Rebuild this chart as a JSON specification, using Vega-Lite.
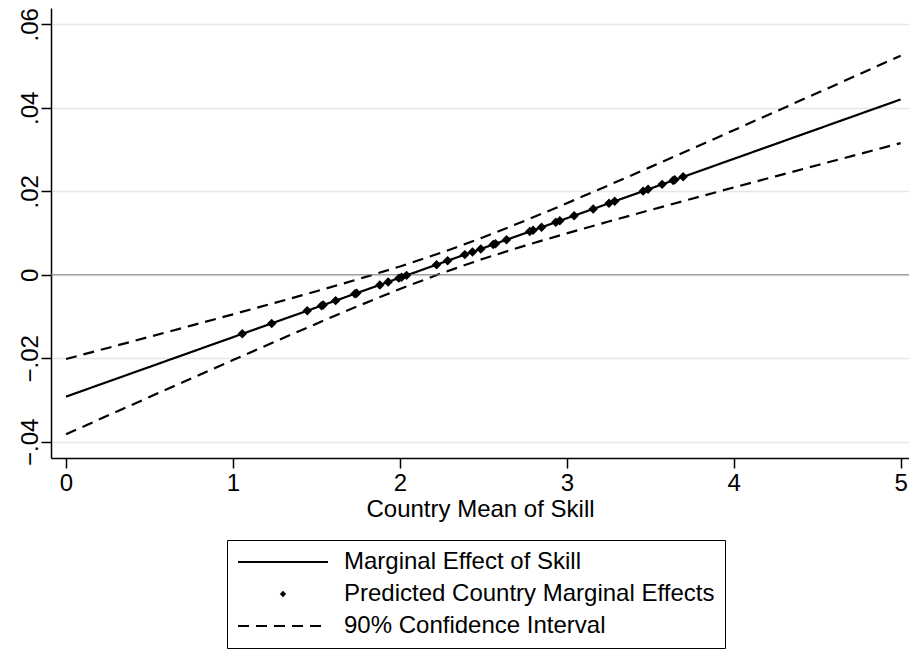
{
  "$schema": "https://vega.github.io/schema/vega-lite/v6.json",
  "width": 858,
  "height": 450,
  "autosize": "none",
  "padding": {"left": 51, "top": 8, "right": 0, "bottom": 191},
  "background": "white",
  "config": {
    "view": {"stroke": null},
    "font": "Liberation Sans",
    "axis": {
      "labelFont": "Liberation Sans",
      "titleFont": "Liberation Sans",
      "labelColor": "black",
      "titleColor": "black",
      "domainColor": "black",
      "tickColor": "black",
      "domainWidth": 1.5,
      "tickWidth": 1.5,
      "labelFlush": false,
      "labelOverlap": false
    },
    "legend": {"labelFont": "Liberation Sans"}
  },
  "datasets": {
    "curves": [
      {"x": 0, "y": -0.0292, "series": "Marginal Effect of Skill", "part": "me"},
      {"x": 0.25, "y": -0.02564, "series": "Marginal Effect of Skill", "part": "me"},
      {"x": 0.5, "y": -0.02208, "series": "Marginal Effect of Skill", "part": "me"},
      {"x": 0.75, "y": -0.01852, "series": "Marginal Effect of Skill", "part": "me"},
      {"x": 1, "y": -0.01496, "series": "Marginal Effect of Skill", "part": "me"},
      {"x": 1.25, "y": -0.0114, "series": "Marginal Effect of Skill", "part": "me"},
      {"x": 1.5, "y": -0.00784, "series": "Marginal Effect of Skill", "part": "me"},
      {"x": 1.75, "y": -0.00428, "series": "Marginal Effect of Skill", "part": "me"},
      {"x": 2, "y": -0.00072, "series": "Marginal Effect of Skill", "part": "me"},
      {"x": 2.25, "y": 0.00284, "series": "Marginal Effect of Skill", "part": "me"},
      {"x": 2.5, "y": 0.0064, "series": "Marginal Effect of Skill", "part": "me"},
      {"x": 2.75, "y": 0.00996, "series": "Marginal Effect of Skill", "part": "me"},
      {"x": 3, "y": 0.01352, "series": "Marginal Effect of Skill", "part": "me"},
      {"x": 3.25, "y": 0.01708, "series": "Marginal Effect of Skill", "part": "me"},
      {"x": 3.5, "y": 0.02064, "series": "Marginal Effect of Skill", "part": "me"},
      {"x": 3.75, "y": 0.0242, "series": "Marginal Effect of Skill", "part": "me"},
      {"x": 4, "y": 0.02776, "series": "Marginal Effect of Skill", "part": "me"},
      {"x": 4.25, "y": 0.03132, "series": "Marginal Effect of Skill", "part": "me"},
      {"x": 4.5, "y": 0.03488, "series": "Marginal Effect of Skill", "part": "me"},
      {"x": 4.75, "y": 0.03844, "series": "Marginal Effect of Skill", "part": "me"},
      {"x": 5, "y": 0.042, "series": "Marginal Effect of Skill", "part": "me"},

      {"x": 0, "y": -0.02019, "series": "90% Confidence Interval", "part": "upper"},
      {"x": 0.25, "y": -0.01754, "series": "90% Confidence Interval", "part": "upper"},
      {"x": 0.5, "y": -0.01487, "series": "90% Confidence Interval", "part": "upper"},
      {"x": 0.75, "y": -0.01219, "series": "90% Confidence Interval", "part": "upper"},
      {"x": 1, "y": -0.00948, "series": "90% Confidence Interval", "part": "upper"},
      {"x": 1.25, "y": -0.00675, "series": "90% Confidence Interval", "part": "upper"},
      {"x": 1.5, "y": -0.00396, "series": "90% Confidence Interval", "part": "upper"},
      {"x": 1.75, "y": -0.00107, "series": "90% Confidence Interval", "part": "upper"},
      {"x": 2, "y": 0.00198, "series": "90% Confidence Interval", "part": "upper"},
      {"x": 2.25, "y": 0.0053, "series": "90% Confidence Interval", "part": "upper"},
      {"x": 2.5, "y": 0.00896, "series": "90% Confidence Interval", "part": "upper"},
      {"x": 2.75, "y": 0.01294, "series": "90% Confidence Interval", "part": "upper"},
      {"x": 3, "y": 0.01712, "series": "90% Confidence Interval", "part": "upper"},
      {"x": 3.25, "y": 0.02142, "series": "90% Confidence Interval", "part": "upper"},
      {"x": 3.5, "y": 0.02578, "series": "90% Confidence Interval", "part": "upper"},
      {"x": 3.75, "y": 0.03019, "series": "90% Confidence Interval", "part": "upper"},
      {"x": 4, "y": 0.03462, "series": "90% Confidence Interval", "part": "upper"},
      {"x": 4.25, "y": 0.03907, "series": "90% Confidence Interval", "part": "upper"},
      {"x": 4.5, "y": 0.04353, "series": "90% Confidence Interval", "part": "upper"},
      {"x": 4.75, "y": 0.04799, "series": "90% Confidence Interval", "part": "upper"},
      {"x": 5, "y": 0.05247, "series": "90% Confidence Interval", "part": "upper"},

      {"x": 0, "y": -0.03821, "series": "90% Confidence Interval", "part": "lower"},
      {"x": 0.25, "y": -0.03374, "series": "90% Confidence Interval", "part": "lower"},
      {"x": 0.5, "y": -0.02929, "series": "90% Confidence Interval", "part": "lower"},
      {"x": 0.75, "y": -0.02485, "series": "90% Confidence Interval", "part": "lower"},
      {"x": 1, "y": -0.02044, "series": "90% Confidence Interval", "part": "lower"},
      {"x": 1.25, "y": -0.01605, "series": "90% Confidence Interval", "part": "lower"},
      {"x": 1.5, "y": -0.01172, "series": "90% Confidence Interval", "part": "lower"},
      {"x": 1.75, "y": -0.00749, "series": "90% Confidence Interval", "part": "lower"},
      {"x": 2, "y": -0.00342, "series": "90% Confidence Interval", "part": "lower"},
      {"x": 2.25, "y": 0.00038, "series": "90% Confidence Interval", "part": "lower"},
      {"x": 2.5, "y": 0.00384, "series": "90% Confidence Interval", "part": "lower"},
      {"x": 2.75, "y": 0.00698, "series": "90% Confidence Interval", "part": "lower"},
      {"x": 3, "y": 0.00992, "series": "90% Confidence Interval", "part": "lower"},
      {"x": 3.25, "y": 0.01274, "series": "90% Confidence Interval", "part": "lower"},
      {"x": 3.5, "y": 0.0155, "series": "90% Confidence Interval", "part": "lower"},
      {"x": 3.75, "y": 0.01821, "series": "90% Confidence Interval", "part": "lower"},
      {"x": 4, "y": 0.0209, "series": "90% Confidence Interval", "part": "lower"},
      {"x": 4.25, "y": 0.02357, "series": "90% Confidence Interval", "part": "lower"},
      {"x": 4.5, "y": 0.02624, "series": "90% Confidence Interval", "part": "lower"},
      {"x": 4.75, "y": 0.02889, "series": "90% Confidence Interval", "part": "lower"},
      {"x": 5, "y": 0.03154, "series": "90% Confidence Interval", "part": "lower"}
    ],
    "countries": [
      {"x": 1.056, "y": -0.01416}, {"x": 1.232, "y": -0.01166}, {"x": 1.445, "y": -0.00862},
      {"x": 1.531, "y": -0.0074}, {"x": 1.541, "y": -0.00726}, {"x": 1.615, "y": -0.0062},
      {"x": 1.731, "y": -0.00455}, {"x": 1.741, "y": -0.00441}, {"x": 1.88, "y": -0.00243},
      {"x": 1.93, "y": -0.00172}, {"x": 1.994, "y": -0.00081}, {"x": 2.01, "y": -0.00058},
      {"x": 2.04, "y": -0.00015}, {"x": 2.22, "y": 0.00241}, {"x": 2.286, "y": 0.00335},
      {"x": 2.389, "y": 0.00482}, {"x": 2.435, "y": 0.00547}, {"x": 2.485, "y": 0.00619},
      {"x": 2.559, "y": 0.00724}, {"x": 2.573, "y": 0.00744}, {"x": 2.639, "y": 0.00838},
      {"x": 2.778, "y": 0.01036}, {"x": 2.798, "y": 0.01064}, {"x": 2.849, "y": 0.01137},
      {"x": 2.934, "y": 0.01258}, {"x": 2.958, "y": 0.01292}, {"x": 3.044, "y": 0.01415},
      {"x": 3.158, "y": 0.01577}, {"x": 3.253, "y": 0.01712}, {"x": 3.287, "y": 0.01761},
      {"x": 3.457, "y": 0.02003}, {"x": 3.487, "y": 0.02046}, {"x": 3.571, "y": 0.02165},
      {"x": 3.637, "y": 0.02259}, {"x": 3.647, "y": 0.02273}, {"x": 3.697, "y": 0.02345}
    ],
    "reference": [{"y": 0}]
  },
  "layer": [
    {
      "data": {"name": "curves"},
      "mark": {"type": "line", "color": "black", "strokeWidth": 2.2, "clip": true},
      "encoding": {
        "x": {
          "field": "x", "type": "quantitative",
          "scale": {"domain": [-0.09, 5.05], "nice": false, "zero": false},
          "axis": {
            "values": [0, 1, 2, 3, 4, 5],
            "format": "d",
            "grid": false,
            "tickSize": 10,
            "labelFontSize": 24,
            "labelPadding": 3,
            "title": "Country Mean of Skill",
            "titleFontSize": 24,
            "titleFontWeight": "normal",
            "titlePadding": 2
          }
        },
        "y": {
          "field": "y", "type": "quantitative",
          "scale": {"domain": [-0.0439, 0.0639], "nice": false, "zero": false},
          "axis": {
            "values": [-0.04, -0.02, 0, 0.02, 0.04, 0.06],
            "labelExpr": "datum.value == 0 ? '0' : replace(format(datum.value, '.2f'), '0.', '.')",
            "labelAngle": -90,
            "labelAlign": "center",
            "labelBaseline": "alphabetic",
            "labelPadding": 4,
            "labelFontSize": 24,
            "tickSize": 10,
            "grid": true,
            "gridColor": "#e6e6e6",
            "gridWidth": 1.5,
            "title": null
          }
        },
        "detail": {"field": "part", "type": "nominal"},
        "strokeDash": {
          "field": "series", "type": "nominal",
          "scale": {
            "domain": ["Marginal Effect of Skill", "Predicted Country Marginal Effects", "90% Confidence Interval"],
            "range": [[1, 0], [1, 0], [11, 7]]
          },
          "legend": {
            "title": null,
            "orient": "none",
            "legendX": 176,
            "legendY": 532,
            "direction": "vertical",
            "symbolType": "stroke",
            "symbolSize": 8100,
            "symbolStrokeWidth": 2,
            "symbolStrokeColor": "black",
            "symbolFillColor": "black",
            "labelFontSize": 24,
            "labelColor": "black",
            "labelOffset": 16,
            "labelLimit": 600,
            "padding": 10,
            "rowPadding": 8,
            "strokeColor": "black",
            "fillColor": "white",
            "cornerRadius": 0,
            "encode": {
              "symbols": {
                "update": {
                  "x": {"value": 46},
                  "shape": {"signal": "datum.value === 'Predicted Country Marginal Effects' ? 'diamond' : 'stroke'"},
                  "size": {"signal": "datum.value === 'Predicted Country Marginal Effects' ? 40 : 8100"},
                  "strokeWidth": {"signal": "datum.value === 'Predicted Country Marginal Effects' ? 0 : 2"},
                  "fill": {"value": "black"},
                  "stroke": {"value": "black"}
                }
              },
              "labels": {
                "update": {
                  "x": {"value": 107}
                }
              }
            }
          }
        }
      }
    },
    {
      "data": {"name": "reference"},
      "mark": {"type": "rule", "color": "#808080", "strokeWidth": 1.2},
      "encoding": {
        "y": {"field": "y", "type": "quantitative"}
      }
    },
    {
      "data": {"name": "countries"},
      "mark": {"type": "point", "shape": "diamond", "filled": true, "color": "black", "size": 90, "opacity": 1},
      "encoding": {
        "x": {"field": "x", "type": "quantitative"},
        "y": {"field": "y", "type": "quantitative"}
      }
    }
  ]
}
